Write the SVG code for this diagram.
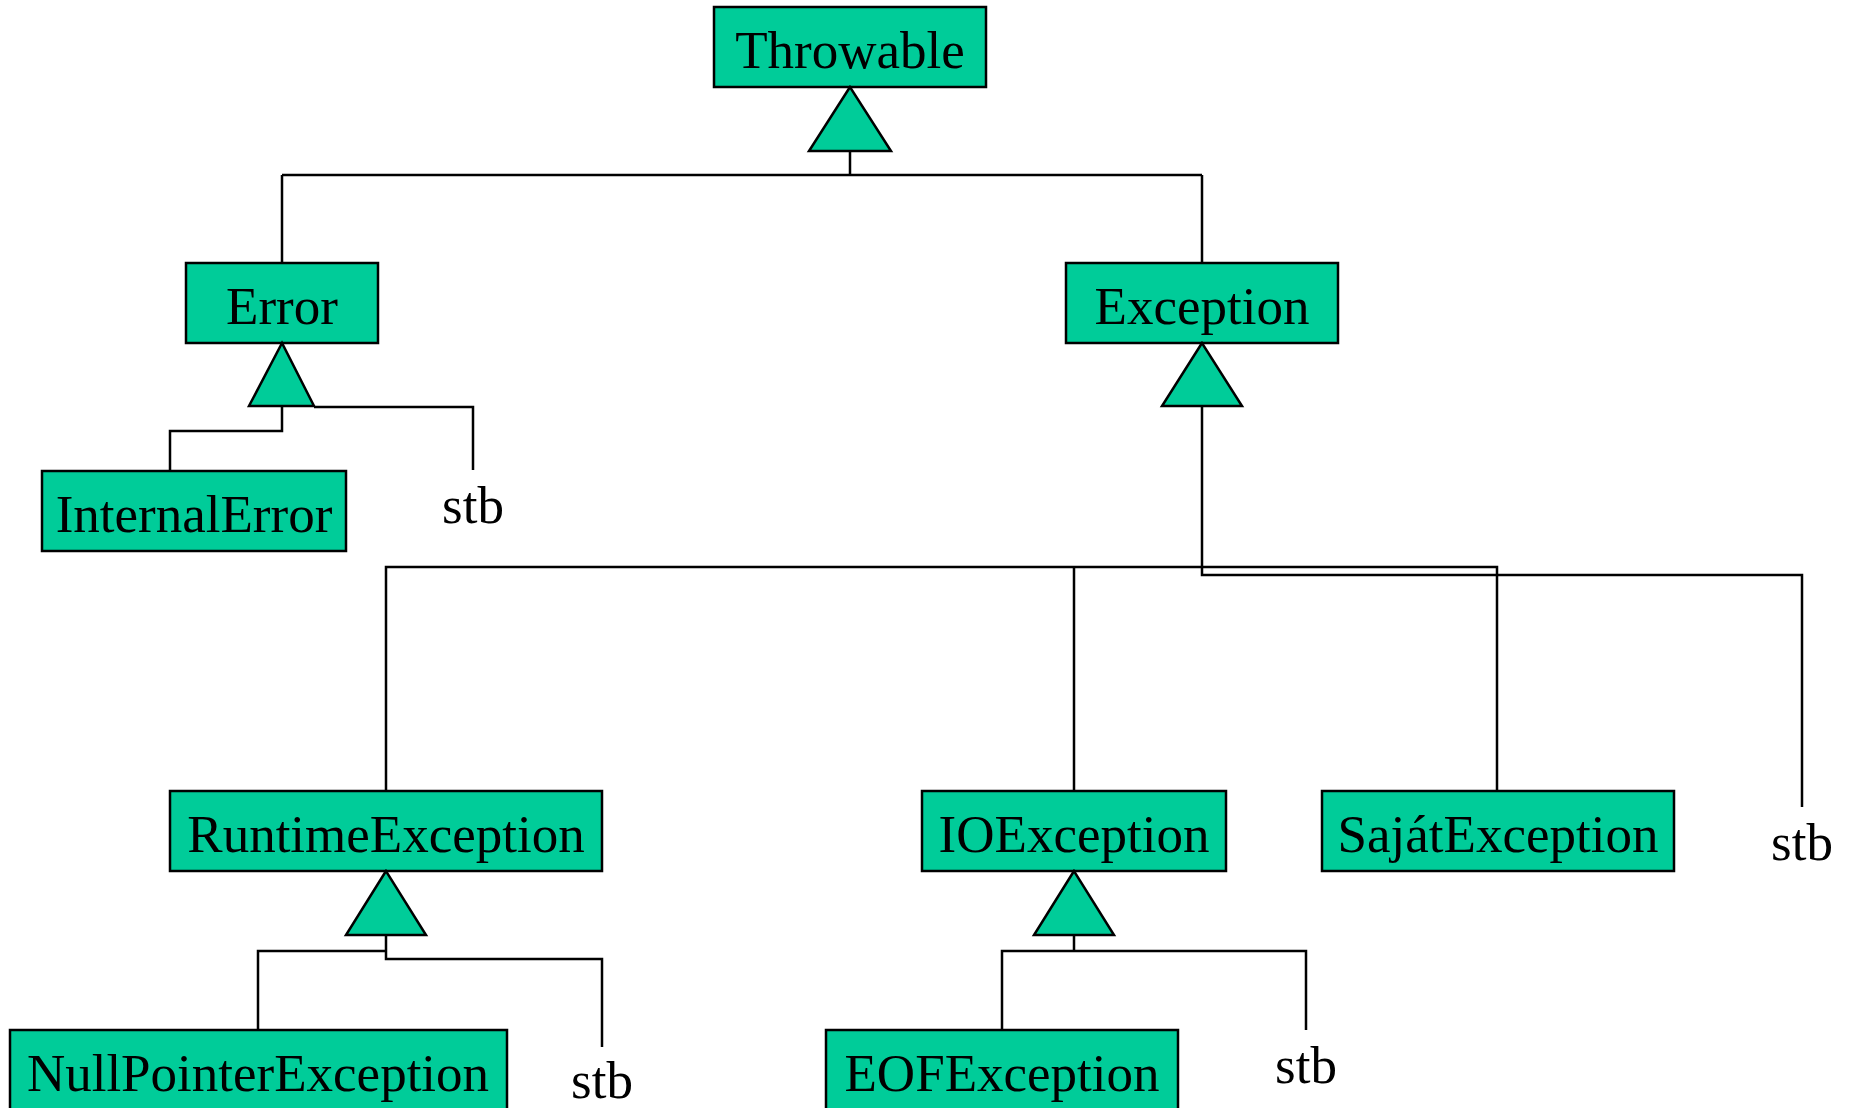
<svg xmlns="http://www.w3.org/2000/svg" width="1850" height="1108" viewBox="0 0 1850 1108">
<style>
.box{fill:#00CC99;stroke:#000;stroke-width:2.5}
.tri{fill:#00CC99;stroke:#000;stroke-width:2.5;stroke-linejoin:miter}
.lbl{font-family:"Liberation Serif","Times New Roman",serif;font-size:53px;fill:#000;text-anchor:middle}
.ln{fill:none;stroke:#000;stroke-width:2.5}
</style>
<rect width="1850" height="1108" fill="#fff"/>
<g id="connectors">
<path class="ln" d="M850,151 V175 M282,175 H1202 M282,175 V263 M1202,175 V263"/>
<path class="ln" d="M314,407 H473 V470 M282,406 V431 H170 V471"/>
<path class="ln" d="M1202,406 V575 H1802 V807"/>
<path class="ln" d="M386,791 V567 H1497 V791 M1074,567 V791"/>
<path class="ln" d="M386,935 V951 H258 V1030 M386,951 V959 H602 V1047"/>
<path class="ln" d="M1074,935 V951 M1002,1030 V951 H1306 V1030"/>
</g>
<g id="Throwable">
<rect class="box" x="714" y="7" width="272" height="80"/>
<text class="lbl" x="850" y="68">Throwable</text>
<polygon class="tri" points="850,87 809,151 891,151"/>
</g>
<g id="Error">
<rect class="box" x="186" y="263" width="192" height="80"/>
<text class="lbl" x="282" y="324">Error</text>
<polygon class="tri" points="282,343 249,406 314,406"/>
</g>
<g id="Exception">
<rect class="box" x="1066" y="263" width="272" height="80"/>
<text class="lbl" x="1202" y="324">Exception</text>
<polygon class="tri" points="1202,343 1162,406 1242,406"/>
</g>
<g id="InternalError">
<rect class="box" x="42" y="471" width="304" height="80"/>
<text class="lbl" x="194" y="532">InternalError</text>
</g>
<g id="stb-error">
<text class="lbl" x="473" y="523">stb</text>
</g>
<g id="RuntimeException">
<rect class="box" x="170" y="791" width="432" height="80"/>
<text class="lbl" x="386" y="852">RuntimeException</text>
<polygon class="tri" points="386,871 346,935 426,935"/>
</g>
<g id="IOException">
<rect class="box" x="922" y="791" width="304" height="80"/>
<text class="lbl" x="1074" y="852">IOException</text>
<polygon class="tri" points="1074,871 1034,935 1114,935"/>
</g>
<g id="SajatException">
<rect class="box" x="1322" y="791" width="352" height="80"/>
<text class="lbl" x="1498" y="852">SajátException</text>
</g>
<g id="stb-exception">
<text class="lbl" x="1802" y="860">stb</text>
</g>
<g id="NullPointerException">
<rect class="box" x="10" y="1030" width="497" height="80"/>
<text class="lbl" x="258" y="1091">NullPointerException</text>
</g>
<g id="stb-runtime">
<text class="lbl" x="602" y="1098">stb</text>
</g>
<g id="EOFException">
<rect class="box" x="826" y="1030" width="352" height="80"/>
<text class="lbl" x="1002" y="1091">EOFException</text>
</g>
<g id="stb-io">
<text class="lbl" x="1306" y="1083">stb</text>
</g>
</svg>
